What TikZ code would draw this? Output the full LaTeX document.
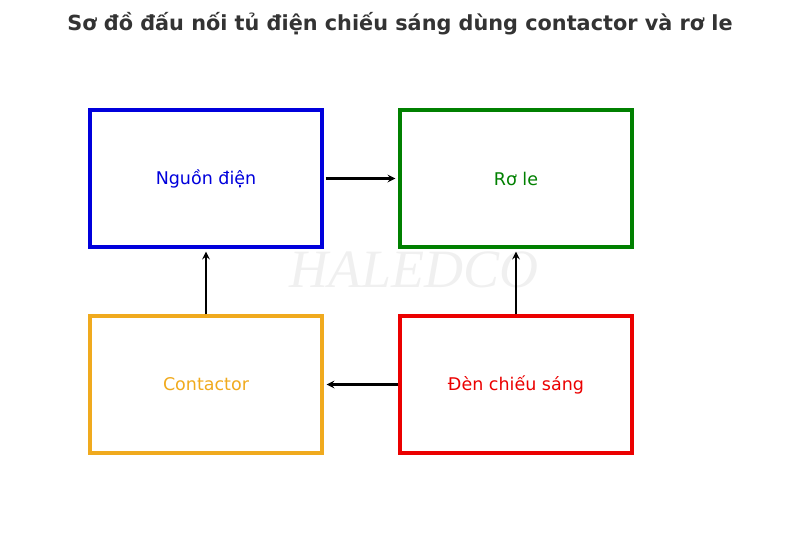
\documentclass[tikz,border=0pt]{standalone}
\usepackage{fontspec}
\setmainfont{DejaVu Sans}
\newfontfamily\wmfont{Liberation Serif}
\definecolor{cblue}{RGB}{0,0,220}
\definecolor{cgreen}{RGB}{0,128,0}
\definecolor{corange}{RGB}{240,170,30}
\definecolor{cred}{RGB}{235,0,0}
\begin{document}
\begin{tikzpicture}[x=1pt,y=-1pt,
  box/.style={draw,line width=3.2pt,minimum width=232pt,minimum height=137pt,font=\fontsize{17.5}{20}\selectfont},
  arr/.style={->,>=stealth,line width=2.4pt}]
\useasboundingbox (0,0) rectangle (800,535);
\node[font=\bfseries\fontsize{20.8}{24}\selectfont,text=black!80] (t) at (400,24) {Sơ đồ đấu nối tủ điện chiếu sáng dùng contactor và rơ le};
\node[font=\wmfont\itshape\fontsize{54}{58}\selectfont,text=black!6] (wm) at (414,270) {HALEDCO};
\node[box,draw=cblue,text=cblue] (a) at (206,178.5) {Nguồn điện};
\node[box,draw=cgreen,text=cgreen] (b) at (516,178.5) {Rơ le};
\node[box,draw=corange,text=corange] (c) at (206,384.5) {Contactor};
\node[box,draw=cred,text=cred] (d) at (516,384.5) {Đèn chiếu sáng};
\draw[arr] (a.east) ++(2,0) -- ([xshift=-3pt]b.west);
\draw[arr] (c.north) -- ([yshift=-3pt]a.south);
\draw[arr] (d.north) -- ([yshift=-3pt]b.south);
\draw[arr] (d.west) -- ([xshift=3pt]c.east);
\end{tikzpicture}
\end{document}
